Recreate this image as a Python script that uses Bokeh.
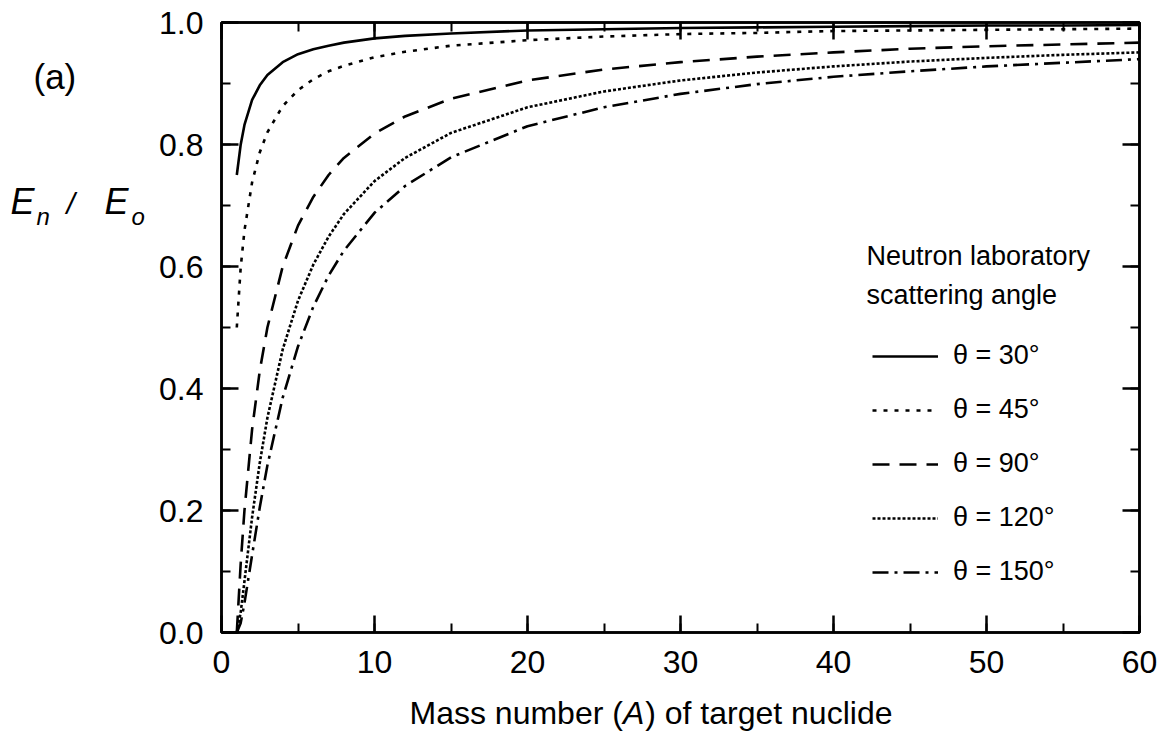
from bokeh.plotting import figure
from bokeh.models import (Label, Legend, LegendItem, LinearAxis, SingleIntervalTicker,
                          PrintfTickFormatter, CustomJSTickFormatter, Range1d)
from bokeh.layouts import row, column
from bokeh.embed import file_html
from bokeh.resources import INLINE

# Mass number A of target nuclide
mass_number = [1, 1.25, 1.5, 2, 2.5, 3, 4, 5, 6, 7, 8, 10, 12, 15, 20, 25, 30, 35, 40, 45, 50, 55, 60]

# E_n / E_o, one list per scattering angle
ratio_30 = [0.750, 0.799, 0.832, 0.873, 0.897, 0.914, 0.935, 0.948, 0.956, 0.962, 0.967, 0.974,
            0.978, 0.982, 0.987, 0.989, 0.991, 0.992, 0.993, 0.994, 0.995, 0.995, 0.996]
ratio_45 = [0.500, 0.597, 0.659, 0.738, 0.787, 0.820, 0.863, 0.889, 0.907, 0.920, 0.929, 0.943,
            0.952, 0.962, 0.971, 0.977, 0.981, 0.983, 0.986, 0.987, 0.988, 0.989, 0.990]
ratio_90 = [0.000, 0.111, 0.200, 0.333, 0.429, 0.500, 0.600, 0.667, 0.714, 0.750, 0.778, 0.818,
            0.846, 0.875, 0.905, 0.923, 0.935, 0.944, 0.951, 0.957, 0.961, 0.964, 0.967]
ratio_120 = [0.000, 0.032, 0.084, 0.189, 0.278, 0.352, 0.464, 0.544, 0.603, 0.649, 0.686, 0.740,
             0.778, 0.819, 0.861, 0.887, 0.905, 0.918, 0.928, 0.936, 0.942, 0.947, 0.951]
ratio_150 = [0.000, 0.015, 0.048, 0.127, 0.205, 0.274, 0.385, 0.469, 0.534, 0.585, 0.626, 0.688,
             0.732, 0.779, 0.830, 0.861, 0.883, 0.899, 0.911, 0.920, 0.928, 0.934, 0.940]

legend_labels = ["θ = 30°", "θ = 45°", "θ = 90°", "θ = 120°", "θ = 150°"]
legend_heading = ["Neutron laboratory", "scattering angle"]
x_title_parts = ["Mass number (", "A", ") of target nuclide"]
x_tick_interval = 10
y_tick_interval = 0.2

FONT = "Liberation Sans"
LEFT_W = 150
TOP_H = 690

# ---------------- main plot ----------------
p = figure(width=1166 - LEFT_W, height=TOP_H, x_range=(0, 60), y_range=(0, 1.0),
           output_backend="svg", toolbar_location=None,
           min_border_left=71, min_border_right=27, min_border_top=22,
           min_border_bottom=TOP_H - 632)
p.xgrid.visible = False
p.ygrid.visible = False
p.outline_line_color = "black"
p.outline_line_width = 2.5
p.background_fill_color = "white"
p.border_fill_color = "white"

def style_axis(ax, show_labels):
    ax.axis_line_color = "black"
    ax.axis_line_width = 2.5
    ax.major_tick_in = 17
    ax.major_tick_out = 0
    ax.minor_tick_in = 9
    ax.minor_tick_out = 0
    ax.major_tick_line_width = 2.5
    ax.minor_tick_line_width = 2
    ax.major_tick_line_color = "black"
    ax.minor_tick_line_color = "black"
    ax.major_label_text_font = FONT
    ax.major_label_text_color = "black"
    ax.major_label_text_font_size = "32px"
    ax.major_label_standoff = 18 if show_labels else 0

xt = SingleIntervalTicker(interval=x_tick_interval, num_minor_ticks=2)
yt = SingleIntervalTicker(interval=y_tick_interval, num_minor_ticks=2)

p.xaxis.ticker = xt
p.yaxis.ticker = yt
p.yaxis.formatter = PrintfTickFormatter(format="%.1f")
style_axis(p.xaxis[0], True)
style_axis(p.yaxis[0], True)

blank = CustomJSTickFormatter(code="return ''")
top = LinearAxis(ticker=xt, formatter=blank)
right = LinearAxis(ticker=yt, formatter=blank)
style_axis(top, False)
style_axis(right, False)
p.add_layout(top, "above")
p.add_layout(right, "right")

styles = [
    dict(line_dash="solid"),
    dict(line_dash="4 7"),
    dict(line_dash="17 10"),
    dict(line_dash="3 2"),
    dict(line_dash="16 6 3 6"),
]
series = [ratio_30, ratio_45, ratio_90, ratio_120, ratio_150]
items = []
for ys, st, lab in zip(series, styles, legend_labels):
    r = p.line(mass_number, ys, line_color="black", line_width=2.6, **st)
    items.append(LegendItem(label=lab, renderers=[r]))

legend = Legend(items=items, location=(651, 45), padding=0, margin=0, spacing=23,
                glyph_width=66, glyph_height=20, label_height=20, label_standoff=15,
                label_text_font=FONT, label_text_font_size="27px", label_text_color="black",
                border_line_color=None, background_fill_alpha=0)
p.add_layout(legend)

FRAME_L = LEFT_W + 71

def px2x(px):
    return (px - FRAME_L) / 918 * 60

def py2y(py):
    return (632 - py) / 610

p.add_layout(Label(x=px2x(866), y=py2y(255), text=legend_heading[0], text_font=FONT,
                   text_font_size="27px", text_color="black", text_baseline="middle"))
p.add_layout(Label(x=px2x(866), y=py2y(294), text=legend_heading[1], text_font=FONT,
                   text_font_size="27px", text_color="black", text_baseline="middle"))

# ---------------- left strip: panel tag and y title ----------------
def strip(width, height):
    f = figure(width=width, height=height, x_range=Range1d(0, width), y_range=Range1d(height, 0),
               output_backend="svg", toolbar_location=None, min_border=0,
               x_axis_location=None, y_axis_location=None)
    f.xgrid.visible = False
    f.ygrid.visible = False
    f.outline_line_color = None
    f.background_fill_color = "white"
    f.border_fill_color = "white"
    return f

pl = strip(LEFT_W, TOP_H)

def put(fig, text, x, y, size, style="normal"):
    fig.add_layout(Label(x=x, y=y, text=text, text_font=FONT, text_font_size=size,
                         text_font_style=style, text_baseline="middle",
                         text_align="left", text_color="black"))

put(pl, "(a)", 33, 61, "35px")
put(pl, "E", 10, 203, "36px", "italic")
put(pl, "n", 36, 219, "24px", "italic")
put(pl, "/", 66, 205, "30px", "italic")
put(pl, "E", 104, 203, "36px", "italic")
put(pl, "o", 131, 219, "24px", "italic")

# ---------------- bottom strip: x title ----------------
pb = strip(1166, 739 - TOP_H)
fs = 32
x0 = 409
mid = 712 - TOP_H
put(pb, x_title_parts[0], x0, mid, "32px")
put(pb, x_title_parts[1], x0 + 6.668 * fs, mid, "32px", "italic")
put(pb, x_title_parts[2], x0 + 7.335 * fs + 1, mid, "32px")

layout = column(row(pl, p, spacing=0), pb, spacing=0)
open("out.html", "w").write(file_html(layout, INLINE))
